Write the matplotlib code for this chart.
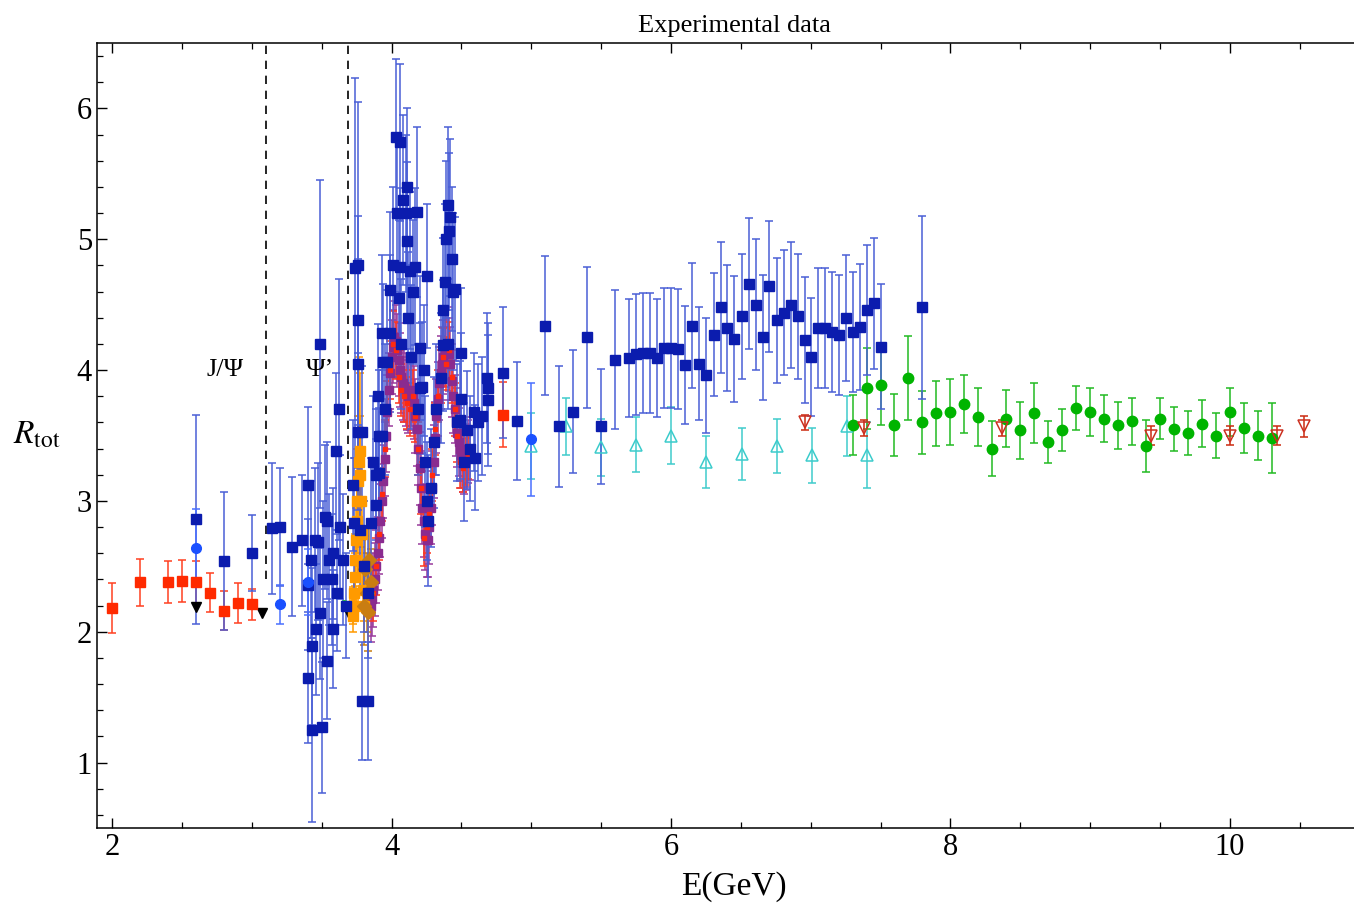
import matplotlib
matplotlib.use("Agg")
import matplotlib.pyplot as plt
import numpy as np

plt.rcParams['font.family'] = ['Liberation Serif', 'DejaVu Serif']
plt.rcParams['mathtext.fontset'] = 'stix'

# low energy red squares (and a lone one at 4.8)
red_x = [2.0, 2.2, 2.4, 2.5, 2.6, 2.7, 2.8, 2.9, 3.0, 4.8]
red_y = [2.18, 2.38, 2.38, 2.39, 2.38, 2.30, 2.16, 2.22, 2.21, 3.66]
red_e = [0.19, 0.18, 0.16, 0.16, 0.16, 0.15, 0.15, 0.15, 0.12, 0.25]

# red points inside the charm resonance region
redres_x = [3.87, 3.89, 3.91, 3.93, 3.95, 3.97, 3.99, 4.01, 4.03, 4.05, 4.07, 4.09,
            4.11, 4.13, 4.15, 4.17, 4.19, 4.21, 4.23, 4.25, 4.27, 4.29, 4.31, 4.33,
            4.35, 4.37, 4.39, 4.41, 4.43, 4.45, 4.47, 4.49, 4.51, 4.53, 4.55]
redres_y = [2.30, 2.50, 2.75, 3.05, 3.40, 3.70, 4.00, 4.20, 4.15, 3.95, 3.85, 3.80,
            3.75, 3.70, 3.80, 3.65, 3.40, 3.10, 2.72, 2.80, 2.90, 3.20, 3.55, 3.80,
            3.95, 4.10, 4.05, 4.15, 3.95, 3.70, 3.50, 3.30, 3.25, 3.30, 3.35]
redres_e = [0.22, 0.22, 0.2, 0.2, 0.22, 0.22, 0.22, 0.25, 0.22, 0.2, 0.2, 0.2,
            0.2, 0.2, 0.2, 0.2, 0.2, 0.2, 0.22, 0.2, 0.2, 0.2, 0.2, 0.2,
            0.2, 0.22, 0.2, 0.22, 0.2, 0.2, 0.2, 0.2, 0.18, 0.18, 0.18]

# purple (dense scan) points
pur_x = [3.85, 3.86, 3.87, 3.88, 3.89, 3.90, 3.91, 3.92, 3.93, 3.94, 3.95, 3.96,
         3.97, 3.98, 3.99, 4.00, 4.01, 4.02, 4.03, 4.04, 4.05, 4.06, 4.07, 4.08,
         4.09, 4.10, 4.11, 4.12, 4.13, 4.14, 4.15, 4.16, 4.17, 4.18, 4.19, 4.20,
         4.21, 4.22, 4.23, 4.24, 4.25, 4.26, 4.27, 4.28, 4.29, 4.30, 4.31, 4.32,
         4.33, 4.34, 4.35, 4.36, 4.37, 4.38, 4.39, 4.40, 4.41, 4.42, 4.43, 4.44,
         4.45, 4.46, 4.47, 4.48, 4.49, 4.50, 4.51, 4.52, 4.53, 4.54, 4.55, 4.56]
pur_y = [2.20, 2.25, 2.32, 2.40, 2.50, 2.60, 2.72, 2.85, 3.00, 3.15, 3.32, 3.50,
         3.68, 3.85, 3.98, 4.10, 4.18, 4.25, 4.22, 4.15, 4.08, 4.00, 3.95, 3.90,
         3.88, 3.85, 3.82, 3.80, 3.82, 3.85, 3.80, 3.75, 3.65, 3.55, 3.40, 3.25,
         3.10, 2.95, 2.85, 2.75, 2.70, 2.70, 2.80, 2.95, 3.10, 3.30, 3.48, 3.65,
         3.78, 3.90, 3.98, 4.05, 4.10, 4.15, 4.18, 4.20, 4.12, 4.05, 3.92, 3.80,
         3.70, 3.60, 3.52, 3.45, 3.40, 3.35, 3.32, 3.30, 3.32, 3.35, 3.38, 3.40]
pur_e = [0.28, 0.28, 0.28, 0.28, 0.28, 0.28, 0.28, 0.28, 0.28, 0.28, 0.28, 0.28,
         0.28, 0.28, 0.28, 0.28, 0.28, 0.28, 0.28, 0.28, 0.28, 0.28, 0.28, 0.28,
         0.28, 0.28, 0.28, 0.28, 0.28, 0.28, 0.28, 0.28, 0.28, 0.28, 0.28, 0.28,
         0.28, 0.28, 0.28, 0.28, 0.28, 0.28, 0.28, 0.28, 0.28, 0.28, 0.28, 0.28,
         0.28, 0.28, 0.28, 0.28, 0.28, 0.28, 0.28, 0.28, 0.28, 0.28, 0.28, 0.28,
         0.26, 0.26, 0.26, 0.26, 0.25, 0.25, 0.25, 0.25, 0.24, 0.24, 0.24, 0.24]

# orange points near psi(3770)
ora_x = [3.72, 3.725, 3.73, 3.735, 3.74, 3.745, 3.75, 3.755, 3.76, 3.765, 3.77,
         3.775, 3.78, 3.785, 3.79, 3.795, 3.80]
ora_y = [2.12, 2.20, 2.30, 2.42, 2.55, 2.70, 2.85, 3.00, 3.15, 3.30, 3.38,
         3.20, 3.00, 2.75, 2.50, 2.32, 2.20]
ora_e = [0.12, 0.14, 0.15, 0.18, 0.2, 0.25, 0.3, 0.4, 0.5, 0.8, 0.6,
         0.45, 0.35, 0.25, 0.2, 0.15, 0.12]

# brown diamonds
brn_x = [3.80, 3.81, 3.82, 3.83, 3.84, 3.85]
brn_y = [2.20, 2.48, 2.30, 2.15, 2.55, 2.38]
brn_e = [0.3, 0.25, 0.3, 0.3, 0.25, 0.25]

# dark blue squares
blue_x = [2.6, 2.8, 3.0, 3.14, 3.2, 3.29,
          3.36, 3.40, 3.40, 3.40, 3.42, 3.43, 3.43, 3.45, 3.46, 3.47, 3.49, 3.49,
          3.50, 3.51, 3.52, 3.54, 3.54, 3.55, 3.57, 3.58, 3.58, 3.60, 3.61, 3.62,
          3.63, 3.65, 3.67,
          3.72, 3.73, 3.74, 3.76, 3.76, 3.76, 3.76, 3.77, 3.79, 3.79, 3.80, 3.83,
          3.83, 3.85, 3.87, 3.89, 3.89, 3.90, 3.91, 3.91, 3.93, 3.93, 3.94, 3.95,
          3.97, 3.99, 3.99,
          4.01, 4.03, 4.04, 4.05, 4.06, 4.06, 4.07, 4.08, 4.10, 4.11, 4.11, 4.12,
          4.13, 4.14, 4.15, 4.17, 4.18, 4.19, 4.20, 4.20, 4.22, 4.23, 4.24, 4.25,
          4.25, 4.26, 4.28,
          4.30, 4.32, 4.35, 4.37, 4.37, 4.38, 4.39, 4.40, 4.40, 4.41, 4.42, 4.43,
          4.44, 4.45, 4.47, 4.49, 4.50, 4.50, 4.52, 4.54, 4.56, 4.59, 4.60, 4.62,
          4.65, 4.68, 4.69, 4.69, 4.80, 4.90,
          5.10, 5.20, 5.30, 5.40, 5.50, 5.60, 5.70, 5.75, 5.80, 5.85, 5.90, 5.95,
          6.00, 6.05, 6.10, 6.15, 6.20, 6.25, 6.31, 6.36, 6.40, 6.45, 6.51, 6.56,
          6.61, 6.66, 6.70, 6.76, 6.81, 6.86, 6.91, 6.96, 7.00, 7.05, 7.10, 7.15,
          7.20, 7.25, 7.30, 7.35, 7.40, 7.45, 7.50, 7.80]
blue_y = [2.86, 2.54, 2.60, 2.79, 2.80, 2.65,
          2.70, 3.12, 2.36, 1.65, 2.55, 1.89, 1.25, 2.70, 2.02, 2.69, 4.20, 2.14,
          1.27, 2.40, 2.88, 2.85, 1.78, 2.55, 2.40, 2.60, 2.02, 3.38, 2.30, 3.70,
          2.80, 2.55, 2.20,
          3.12, 2.83, 4.78, 4.80, 4.38, 4.05, 3.53, 2.78, 1.47, 3.53, 2.50, 1.47,
          2.30, 2.83, 3.30, 3.20, 2.97, 3.80, 3.50, 3.21, 4.28, 3.50, 4.06, 3.70,
          4.06, 4.28, 4.61,
          4.80, 5.78, 5.20, 4.55, 5.74, 4.79, 4.20, 5.30, 5.20, 4.99, 5.40, 4.40,
          4.76, 4.10, 4.60, 4.79, 5.21, 3.70, 4.17, 3.86, 3.87, 4.00, 3.30, 4.72,
          3.00, 2.85, 3.10,
          3.45, 3.70, 3.94, 4.46, 4.19, 4.67, 5.00, 5.26, 4.20, 5.06, 5.17, 4.85,
          4.60, 4.62, 3.60, 3.62, 4.13, 3.78, 3.30, 3.54, 3.40, 3.68, 3.33, 3.60,
          3.65, 3.94, 3.86, 3.77, 3.98, 3.61,
          4.34, 3.57, 3.68, 4.25, 3.57, 4.08, 4.09, 4.12, 4.13, 4.13, 4.09, 4.17,
          4.17, 4.16, 4.04, 4.34, 4.05, 3.96, 4.27, 4.48, 4.32, 4.24, 4.41, 4.66,
          4.50, 4.25, 4.64, 4.38, 4.44, 4.50, 4.41, 4.23, 4.10, 4.32, 4.32, 4.29,
          4.27, 4.40, 4.29, 4.33, 4.46, 4.51, 4.18, 4.48]
blue_e = [0.80, 0.53, 0.29, 0.50, 0.45, 0.53,
          0.50, 0.60, 0.50, 0.50, 0.60, 0.60, 0.70, 0.55, 0.50, 0.60, 1.25, 0.50,
          0.50, 0.60, 0.55, 0.60, 0.45, 0.50, 0.50, 0.50, 0.45, 0.60, 0.45, 1.00,
          0.55, 0.50, 0.40,
          0.50, 0.50, 1.45, 1.25, 0.80, 0.80, 0.60, 0.50, 0.45, 0.50, 0.50, 0.45,
          0.50, 0.50, 0.50, 0.50, 0.50, 0.55, 0.50, 0.50, 0.60, 0.50, 0.60, 0.50,
          0.55, 0.60, 0.60,
          0.60, 0.60, 0.60, 0.60, 0.60, 0.60, 0.50, 0.65, 0.60, 0.60, 0.60, 0.50,
          0.60, 0.55, 0.55, 0.60, 0.65, 0.50, 0.55, 0.50, 0.50, 0.50, 0.50, 0.55,
          0.45, 0.50, 0.45,
          0.50, 0.50, 0.50, 0.55, 0.50, 0.60, 0.60, 0.60, 0.50, 0.60, 0.60, 0.55,
          0.60, 0.55, 0.45, 0.45, 0.50, 0.50, 0.45, 0.45, 0.40, 0.45, 0.40, 0.45,
          0.45, 0.50, 0.50, 0.50, 0.50, 0.45,
          0.53, 0.46, 0.47, 0.54, 0.44, 0.53, 0.45, 0.46, 0.46, 0.46, 0.45, 0.46,
          0.46, 0.46, 0.45, 0.48, 0.43, 0.44, 0.47, 0.50, 0.48, 0.48, 0.48, 0.50,
          0.50, 0.48, 0.50, 0.48, 0.48, 0.48, 0.48, 0.48, 0.45, 0.46, 0.46, 0.46,
          0.46, 0.48, 0.46, 0.48, 0.50, 0.50, 0.48, 0.70]

# bright blue circles
bcirc_x = [2.6, 3.2, 3.4, 5.0]
bcirc_y = [2.64, 2.21, 2.38, 3.47]
bcirc_e = [0.30, 0.15, 0.25, 0.43]

# black down triangles
blk_x = [2.6, 3.07, 3.69]
blk_y = [2.19, 2.14, 2.15]

# small green point
sgr_x = [3.66]
sgr_y = [2.22]

# cyan open triangles
cyan_x = [5.00, 5.25, 5.50, 5.75, 6.00, 6.25, 6.51, 6.76, 7.01, 7.26, 7.40]
cyan_y = [3.42, 3.57, 3.41, 3.43, 3.50, 3.30, 3.36, 3.42, 3.35, 3.57, 3.35]
cyan_e = [0.25, 0.22, 0.22, 0.21, 0.22, 0.20, 0.20, 0.21, 0.21, 0.23, 0.25]

# green circles
grn_x = [7.30, 7.40, 7.50, 7.60, 7.70, 7.80, 7.90, 8.00, 8.10, 8.20, 8.30, 8.40,
         8.50, 8.60, 8.70, 8.80, 8.90, 9.00, 9.10, 9.20, 9.30, 9.40, 9.50, 9.60,
         9.70, 9.80, 9.90, 10.00, 10.10, 10.20, 10.30]
grn_y = [3.58, 3.86, 3.89, 3.58, 3.94, 3.60, 3.67, 3.68, 3.74, 3.64, 3.40, 3.63,
         3.54, 3.67, 3.45, 3.54, 3.71, 3.68, 3.63, 3.58, 3.61, 3.42, 3.63, 3.55,
         3.52, 3.59, 3.50, 3.68, 3.56, 3.50, 3.48]
grn_e = [0.23, 0.31, 0.31, 0.24, 0.32, 0.24, 0.25, 0.25, 0.22, 0.22, 0.21, 0.22,
         0.22, 0.23, 0.16, 0.16, 0.17, 0.18, 0.18, 0.18, 0.18, 0.20, 0.16, 0.17,
         0.17, 0.18, 0.17, 0.18, 0.19, 0.19, 0.27]

# red open down triangles
rtri_x = [6.96, 7.38, 8.37, 9.44, 10.00, 10.34, 10.53]
rtri_y = [3.60, 3.56, 3.56, 3.50, 3.50, 3.50, 3.57]
rtri_e = [0.06, 0.06, 0.06, 0.07, 0.07, 0.07, 0.08]

fig = plt.figure(figsize=(13.54, 9.15), dpi=100)
ax = fig.add_axes([0.0716, 0.095, 0.9284, 0.858])

eb = dict(linestyle='none', capsize=2.6, elinewidth=1.1, capthick=1.1)

ax.errorbar(pur_x, pur_y, yerr=pur_e, fmt='s', ms=6, color='#8a2b8f',
            ecolor='#9a3c9c', **eb)
ax.errorbar(redres_x, redres_y, yerr=redres_e, fmt='s', ms=3.5, color='#ff2a10',
            ecolor='#ff3a20', **eb)
ax.errorbar(ora_x, ora_y, yerr=ora_e, fmt='s', ms=7, color='#ff9a00',
            ecolor='#ff9a00', **eb)
ax.errorbar(brn_x, brn_y, yerr=brn_e, fmt='D', ms=7, color='#c97d12',
            ecolor='#c97d12', **eb)
ax.errorbar(red_x, red_y, yerr=red_e, fmt='s', ms=6.5, color='#ff2a00',
            ecolor='#ff4020', **eb)
ax.errorbar(cyan_x, cyan_y, yerr=cyan_e, fmt='^', ms=8, mfc='none', mew=1.1,
            color='#3ccccc', ecolor='#40cccc', **eb)
ax.errorbar(grn_x, grn_y, yerr=grn_e, fmt='o', ms=7.5, color='#00b400',
            ecolor='#22bb22', **eb)
ax.errorbar(rtri_x, rtri_y, yerr=rtri_e, fmt='v', ms=8, mfc='none', mew=1.1,
            color='#cc3020', ecolor='#cc2a10', **eb)
ax.errorbar(blue_x, blue_y, yerr=blue_e, fmt='s', ms=6.5, color='#0b1cae',
            ecolor='#4a5fd6', **eb)
ax.errorbar(bcirc_x, bcirc_y, yerr=bcirc_e, fmt='o', ms=7, color='#1a50ff',
            ecolor='#4a70ff', **eb)
ax.plot(blk_x, blk_y, 'v', ms=6.5, color='black', linestyle='none')
ax.plot(sgr_x, sgr_y, 'o', ms=4, color='#22dd22', linestyle='none')

# resonance markers
ax.plot([3.097, 3.097], [2.4, 6.5], '--', color='black', lw=1.2, dashes=(5, 4))
ax.plot([3.686, 3.686], [2.4, 6.5], '--', color='black', lw=1.2, dashes=(5, 4))
ax.text(2.81, 4.0, 'J/Ψ', fontsize=19, ha='center', va='center')
ax.text(3.49, 4.0, 'Ψ’', fontsize=19, ha='center', va='center')

ax.set_xlim(1.89, 10.89)
ax.set_ylim(0.5, 6.5)
ax.set_xticks([2, 4, 6, 8, 10])
ax.set_xticks(np.arange(2.0, 10.9, 0.5), minor=True)
ax.set_yticks([1, 2, 3, 4, 5, 6])
ax.set_yticks(np.arange(0.6, 6.5, 0.2), minor=True)
ax.tick_params(which='both', direction='in', top=True, right=False, labelsize=22)
ax.tick_params(which='major', length=7, width=1.0)
ax.tick_params(which='minor', length=4.5, width=0.9)
ax.spines['right'].set_visible(False)
for s in ['left', 'bottom', 'top']:
    ax.spines[s].set_linewidth(1.1)

ax.set_title('Experimental data', fontsize=19, pad=8, x=0.507)
ax.set_xlabel('E(GeV)', fontsize=24, labelpad=6)
ax.xaxis.set_label_coords(0.507, -0.055)
ax.set_ylabel(r'$R_{\rm tot}$', fontsize=24, rotation=0, va='center')
ax.yaxis.set_label_coords(-0.048, 0.50)

fig.savefig('out.png', dpi=100)
